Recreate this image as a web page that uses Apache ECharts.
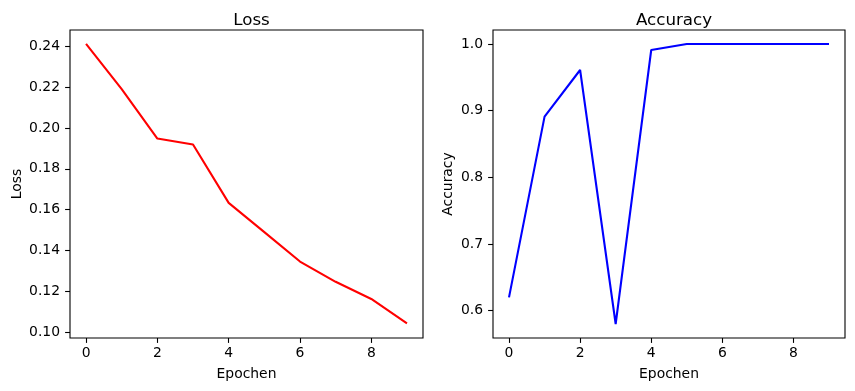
<!DOCTYPE html>
<html>
<head>
<meta charset="utf-8">
<script src="https://cdn.jsdelivr.net/npm/echarts@6/dist/echarts.min.js"></script>
<style>html,body{margin:0;padding:0;background:#fff}#c{width:855px;height:391px}</style>
</head>
<body>
<div id="c"></div>
<script>
const epochs = [0,1,2,3,4,5,6,7,8,9];
const loss = [0.2411,0.219,0.1948,0.1919,0.1633,0.149,0.1346,0.1247,0.1163,0.1044];
const accuracy = [0.62,0.891,0.961,0.58,0.991,1.0,1.0,1.0,1.0,1.0];
const xTicks = [0,2,4,6,8];
const lossTicks = [0.10,0.12,0.14,0.16,0.18,0.20,0.22,0.24];
const accTicks = [0.6,0.7,0.8,0.9,1.0];

const FONT = 'DejaVu Sans';
const chart = echarts.init(document.getElementById('c'), null, {renderer:'canvas'});
function xAxis(gi){
  return {
    type:'value', gridIndex:gi, min:-0.45, max:9.45,
    name:'Epochen', nameLocation:'middle', nameGap:29,
    nameTextStyle:{fontFamily:FONT,fontSize:13.9,color:'#000'},
    axisLine:{show:false,onZero:false},
    splitLine:{show:false},
    axisTick:{show:true,length:4.9,lineStyle:{color:'#000',width:1.1},customValues:xTicks},
    axisLabel:{show:true,margin:8,fontFamily:FONT,fontSize:13.9,color:'#000',customValues:xTicks,formatter:v=>String(v)}
  };
}
function yAxis(gi,name,min,max,ticks,dec,gap){
  return {
    type:'value', gridIndex:gi, min:min, max:max,
    name:name, nameLocation:'middle', nameGap:gap,
    nameTextStyle:{fontFamily:FONT,fontSize:13.9,color:'#000'},
    axisLine:{show:false,onZero:false},
    splitLine:{show:false},
    axisTick:{show:true,length:4.9,lineStyle:{color:'#000',width:1.1},customValues:ticks},
    axisLabel:{show:true,margin:10,fontFamily:FONT,fontSize:13.9,color:'#000',customValues:ticks,formatter:v=>v.toFixed(dec)}
  };
}
chart.setOption({
  animation:false,
  backgroundColor:'#fff',
  title:[
    {text:'Loss',left:246.5,top:7,textAlign:'center',textStyle:{fontFamily:FONT,fontSize:16.7,fontWeight:'normal',color:'#000'}},
    {text:'Accuracy',left:669,top:7,textAlign:'center',textStyle:{fontFamily:FONT,fontSize:16.7,fontWeight:'normal',color:'#000'}}
  ],
  grid:[
    {left:70,top:30,width:353,height:308,show:true,borderColor:'#000',borderWidth:1.1,backgroundColor:'transparent'},
    {left:493,top:30,width:352,height:308,show:true,borderColor:'#000',borderWidth:1.1,backgroundColor:'transparent'}
  ],
  xAxis:[xAxis(0),xAxis(1)],
  yAxis:[
    yAxis(0,'Loss',0.0972,0.2479,lossTicks,2,46),
    yAxis(1,'Accuracy',0.559,1.021,accTicks,1,38)
  ],
  series:[
    {type:'line',xAxisIndex:0,yAxisIndex:0,data:epochs.map((e,i)=>[e,loss[i]]),showSymbol:false,lineStyle:{color:'#ff0000',width:2.08},itemStyle:{color:'#ff0000'}},
    {type:'line',xAxisIndex:1,yAxisIndex:1,data:epochs.map((e,i)=>[e,accuracy[i]]),showSymbol:false,lineStyle:{color:'#0000ff',width:2.08},itemStyle:{color:'#0000ff'}}
  ]
});
</script>
</body>
</html>
